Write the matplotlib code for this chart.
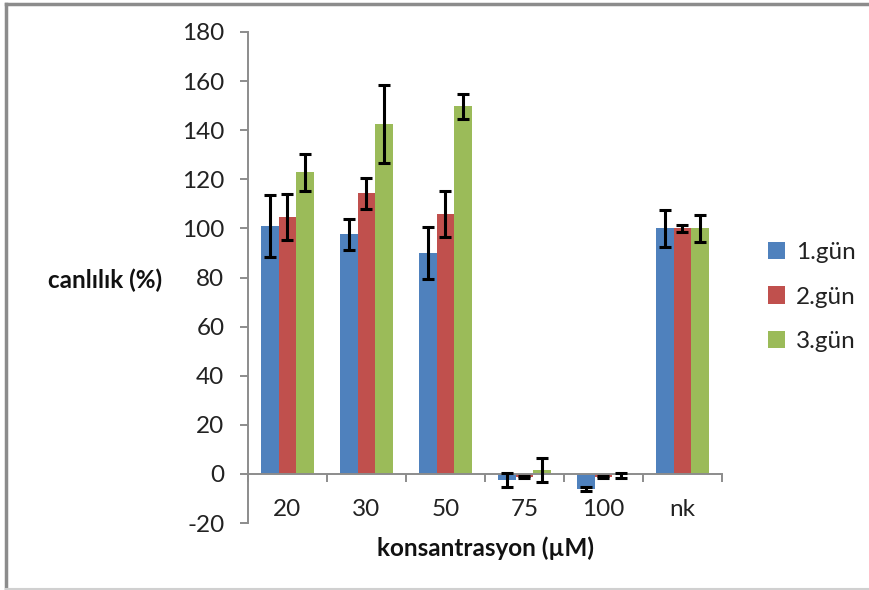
import matplotlib.pyplot as plt
import numpy as np
from matplotlib.lines import Line2D
from matplotlib.patches import Patch

plt.rcParams["font.family"] = ["Lato", "DejaVu Sans"]
plt.rcParams["axes.unicode_minus"] = False

categories = ["20", "30", "50", "75", "100", "nk"]
series_labels = ["1.gün", "2.gün", "3.gün"]
day1 = [101.0, 97.6, 90.0, -2.5, -6.0, 100.0]
day2 = [104.6, 114.3, 105.7, -1.2, -1.2, 100.0]
day3 = [122.8, 142.5, 149.7, 1.5, -0.5, 100.0]
day1_err = [12.5, 6.2, 10.5, 2.7, 0.8, 7.5]
day2_err = [9.5, 6.4, 9.4, 0.4, 0.3, 1.5]
day3_err = [7.4, 16.0, 5.0, 5.0, 1.0, 5.5]
colors = ["#4F81BD", "#C0504D", "#9BBB59"]

fig = plt.figure(figsize=(8.7, 5.9), dpi=100)
ax = fig.add_axes([248 / 870, 1 - 523 / 590, (722 - 248) / 870, (523 - 32) / 590])

x = np.arange(len(categories))
w = 0.224
for i, (vals, errs) in enumerate(zip([day1, day2, day3], [day1_err, day2_err, day3_err])):
    ax.bar(x + (i - 1) * w, vals, width=w, color=colors[i], edgecolor="none", zorder=2)
    ax.errorbar(x + (i - 1) * w, vals, yerr=errs, fmt="none", ecolor="black",
                elinewidth=2.2, capsize=4.5, capthick=2.2, zorder=3)

ax.set_xlim(-0.5, 5.5)
ax.set_ylim(-20, 180)
ax.set_yticks(np.arange(-20, 181, 20))
ax.spines["top"].set_visible(False)
ax.spines["right"].set_visible(False)
ax.spines["bottom"].set_position(("data", 0))
for s in ("left", "bottom"):
    ax.spines[s].set_color("#8c8c8c")
    ax.spines[s].set_linewidth(1.4)

ax.set_xticks(x)
ax.set_xticklabels(categories)
ax.set_xticks(np.arange(-0.5, 5.6, 1.0), minor=True)
ax.tick_params(axis="x", which="major", length=0, pad=18, labelsize=17.5, labelcolor="#222222")
ax.tick_params(axis="x", which="minor", length=6, width=1.4, color="#8c8c8c")
ax.tick_params(axis="y", length=6, width=1.4, color="#8c8c8c", pad=11, labelsize=17.5,
               labelcolor="#222222")

fig.text(105 / 870, 1 - 280 / 590, "canlılık (%)", ha="center", va="center",
         fontsize=17.5, fontweight="bold", color="#111111")
fig.text(486 / 870, 1 - 548 / 590, "konsantrasyon (µM)", ha="center", va="center",
         fontsize=17.5, fontweight="bold", color="#111111")

handles = [Patch(facecolor=c, edgecolor="none") for c in colors]
fig.legend(handles, series_labels, loc="center left", bbox_to_anchor=(746 / 870, 1 - 297 / 590),
           frameon=False, fontsize=17.5, handlelength=0.7, handleheight=0.7,
           handletextpad=0.45, labelspacing=0.95, labelcolor="#222222")

# chart-area border: dark top/left, faint bottom
fig.add_artist(Line2D([6 / 870, 1], [1 - 4 / 590, 1 - 4 / 590], transform=fig.transFigure,
                      color="#8c8c8c", linewidth=2.5))
fig.add_artist(Line2D([6 / 870, 6 / 870], [1 - 589 / 590, 1 - 4 / 590], transform=fig.transFigure,
                      color="#8c8c8c", linewidth=2.5))
fig.add_artist(Line2D([6 / 870, 1], [1 - 589 / 590, 1 - 589 / 590], transform=fig.transFigure,
                      color="#d0d0d0", linewidth=1.5))

fig.savefig("out.png", dpi=100)
